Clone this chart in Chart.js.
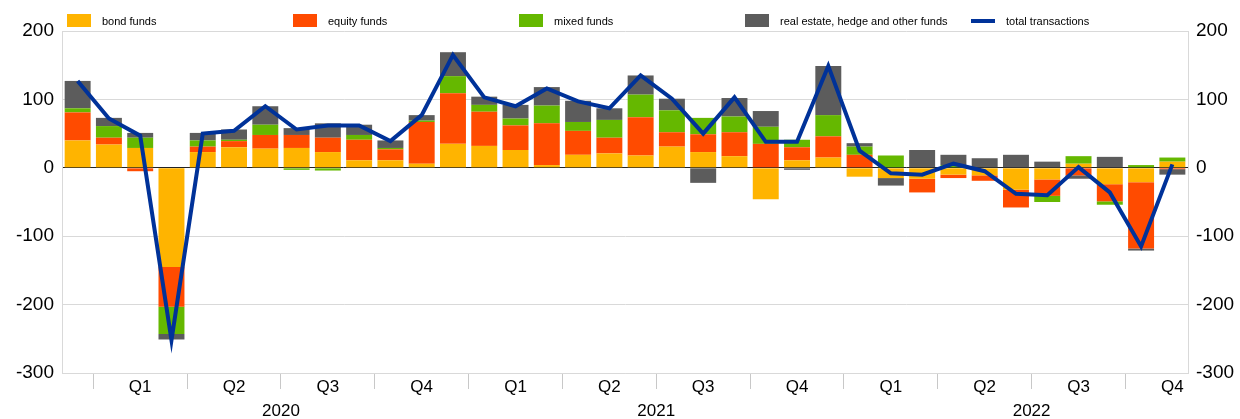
<!DOCTYPE html>
<html>
<head>
<meta charset="utf-8">
<script src="https://cdn.jsdelivr.net/npm/chart.js@4.4.1/dist/chart.umd.min.js"></script>
<style>
    body { margin: 0; background: #fff; font-family: 'Liberation Sans', Arial, sans-serif; }
    #wrap { position: relative; width: 1240px; height: 419px; }
    #legend { position: absolute; left: 67px; top: 14px; display: flex; }
    .item { width: 226px; height: 13px; display: flex; align-items: center; font-size: 11px; color: #000; }
    .swatch { width: 24px; height: 13px; margin-right: 11px; flex: none; }
    .swatch.line { height: 4px; }
</style>
</head>
<body>
<div id="wrap">
    <canvas id="flowsChart"></canvas>
    <div id="legend"></div>
</div>
<script>
// Mois (déc. 2019 - nov. 2022)
const months = [
    '2019-12',
    '2020-01', '2020-02', '2020-03', '2020-04', '2020-05', '2020-06',
    '2020-07', '2020-08', '2020-09', '2020-10', '2020-11', '2020-12',
    '2021-01', '2021-02', '2021-03', '2021-04', '2021-05', '2021-06',
    '2021-07', '2021-08', '2021-09', '2021-10', '2021-11', '2021-12',
    '2022-01', '2022-02', '2022-03', '2022-04', '2022-05', '2022-06',
    '2022-07', '2022-08', '2022-09', '2022-10', '2022-11'
];
const years = ['2020', '2021', '2022'];
const yTicks = [-300, -200, -100, 0, 100, 200];

// Séries (EUR bn)
const bondFunds = [40, 34, 29, -145, 23, 30, 28, 29, 23, 11, 11, 6, 35, 32, 26, 4, 19, 21, 18, 31, 23, 17, -46, 11, 15, -13, -15, -16, -10, -11, -32, -17, 6, -24, -21, 9];
const equityFunds = [41, 10, -5, -58, 8, 9, 20, 19, 21, 30, 16, 61, 74, 50, 36, 61, 35, 23, 56, 21, 26, 35, 35, 19, 31, 19, 0, -20, -5, -8, -26, -24, -11, -25, -97, -2];
const mixedFunds = [6, 17, 15, -40, 9, 2, 15, -3, -4, 7, 2, 2, 25, 10, 10, 26, 13, 26, 33, 32, 24, 23, 25, 11, 31, 12, 18, 0, 4, 0, 0, -9, 11, -5, 4, 6];
const otherFunds = [40, 12, 7, -8, 11, 15, 27, 10, 21, 15, 11, 8, 35, 12, 20, 27, 31, 17, 28, 17, -22, 27, 23, -3, 72, 5, -11, 26, 15, 14, 19, 9, -5, 16, -3, -8];
const totalTransactions = [127, 72, 47, -252, 50, 54, 90, 56, 62, 62, 39, 77, 165, 103, 90, 116, 97, 87, 135, 101, 50, 103, 38, 38, 149, 25, -8, -10, 6, -5, -38, -40, 1, -36, -115, 5];

const monthOf = i => (months[i] ? parseInt(months[i].slice(5), 10) : 0);
const isQuarterStart = i => [1, 4, 7, 10].includes(monthOf(i));
const quarterLabel = i => ([2, 5, 8, 11].includes(monthOf(i)) ? 'Q' + (monthOf(i) + 1) / 3 : '');
// l'année est écrite sous juillet, décalée d'une demi-catégorie vers la gauche
const yearLabel = i => (monthOf(i) === 7 && years.includes(months[i].slice(0, 4)) ? months[i].slice(0, 4) : '');

const GRID = '#d9d9d9';
const PLOT_WIDTH = 1240 - 62 - 52;
Chart.defaults.font.family = "'Liberation Sans', Arial, sans-serif";
Chart.defaults.color = '#000';

const bar = (label, data, color) => ({ label, data, backgroundColor: color, borderWidth: 0, stack: 'funds' });

const chart = new Chart(document.getElementById('flowsChart'), {
    type: 'bar',
    data: {
        labels: months,
        datasets: [
            bar('bond funds', bondFunds, '#FFB400'),
            bar('equity funds', equityFunds, '#FF4B00'),
            bar('mixed funds', mixedFunds, '#65B800'),
            bar('real estate, hedge and other funds', otherFunds, '#5C5C5C'),
            {
                type: 'line',
                label: 'total transactions',
                data: totalTransactions,
                borderColor: '#003299',
                backgroundColor: '#003299',
                borderWidth: 4,
                pointRadius: 0,
                tension: 0,
                order: -1
            }
        ]
    },
    options: {
        responsive: true,
        maintainAspectRatio: false,
        animation: false,
        layout: { padding: { top: 31, left: 0, right: 0, bottom: 0 } },
        plugins: { legend: { display: false }, tooltip: { enabled: false } },
        datasets: { bar: { barPercentage: 0.83, categoryPercentage: 1 } },
        scales: {
            x: {
                stacked: true,
                offset: true,
                grid: {
                    offset: true,
                    drawOnChartArea: false,
                    drawTicks: true,
                    tickLength: 16,
                    color: ctx => (isQuarterStart(ctx.index) ? '#c8c8c8' : 'transparent')
                },
                border: { color: GRID },
                ticks: {
                    autoSkip: false,
                    maxRotation: 0,
                    padding: -12,
                    font: { size: 17 },
                    callback: (v, i) => quarterLabel(i)
                },
                afterFit: s => { s.height = 24; }
            },
            x2: {
                type: 'category',
                position: 'bottom',
                offset: true,
                grid: { display: false },
                border: { display: false },
                ticks: {
                    autoSkip: false,
                    maxRotation: 0,
                    padding: -4,
                    labelOffset: -PLOT_WIDTH / months.length / 2,
                    font: { size: 17 },
                    callback: (v, i) => yearLabel(i)
                },
                afterFit: s => { s.height = 22; }
            },
            y: {
                stacked: true,
                min: yTicks[0],
                max: yTicks[yTicks.length - 1],
                afterBuildTicks: s => { s.ticks = yTicks.map(v => ({ value: v })); },
                ticks: { padding: 8, font: { size: 19 } },
                grid: { color: GRID, drawTicks: false },
                border: { color: GRID },
                afterFit: s => { s.width = 62; }
            },
            y2: {
                position: 'right',
                min: yTicks[0],
                max: yTicks[yTicks.length - 1],
                z: 1,
                afterBuildTicks: s => { s.ticks = yTicks.map(v => ({ value: v })); },
                ticks: { padding: 8, font: { size: 19 } },
                grid: {
                    drawTicks: false,
                    color: ctx => (ctx.tick && ctx.tick.value === 0 ? '#222' : 'transparent')
                },
                border: { color: GRID },
                afterFit: s => { s.width = 52; }
            }
        }
    }
});

// Légende HTML (colonnes de largeur fixe)
document.getElementById('legend').innerHTML = chart.data.datasets.map(ds => `
    <div class="item">
        <span class="swatch${ds.type === 'line' ? ' line' : ''}" style="background:${ds.backgroundColor}"></span>
        <span>${ds.label}</span>
    </div>
`).join('');
</script>
</body>
</html>
